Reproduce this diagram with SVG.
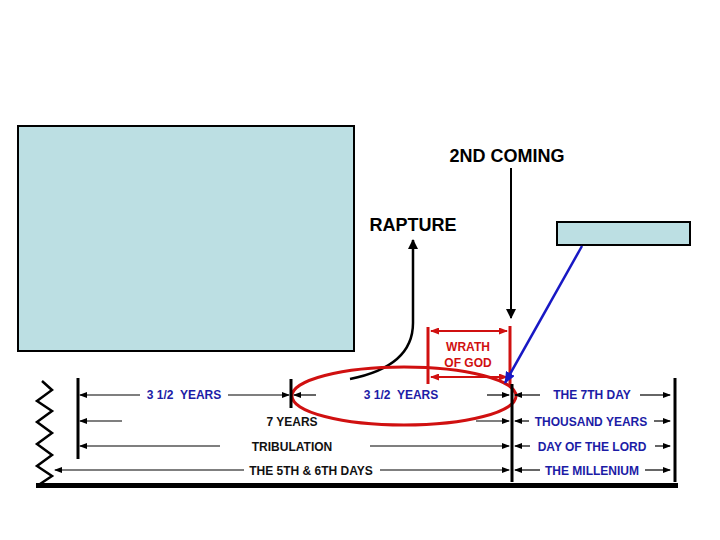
<svg xmlns="http://www.w3.org/2000/svg" width="720" height="540" viewBox="0 0 720 540">
<style>
.t{font-family:"Liberation Sans",Arial,sans-serif;font-weight:bold}
.row{font-size:12px;text-anchor:middle}
.blue{fill:#1c1ca6}
.blk{fill:#111}
.a{stroke:#000;stroke-width:1.2;fill:none}
.bar{stroke:#000;stroke-width:3;fill:none}
.red{stroke:#d01010;fill:none}
</style>
<defs>
<marker id="ah" markerWidth="8" markerHeight="6" refX="7" refY="3" orient="auto" markerUnits="userSpaceOnUse">
<path d="M0,0 L8,3 L0,6 Z" fill="#000"/>
</marker>
<marker id="ahr" markerWidth="9" markerHeight="7" refX="8" refY="3.5" orient="auto-start-reverse" markerUnits="userSpaceOnUse">
<path d="M0,0 L9,3.5 L0,7 Z" fill="#d01010"/>
</marker>
<marker id="big" markerWidth="10" markerHeight="10" refX="9" refY="5" orient="auto" markerUnits="userSpaceOnUse">
<path d="M0,0 L10,5 L0,10 Z" fill="#000"/>
</marker>
<marker id="blu" markerWidth="12" markerHeight="10" refX="11" refY="5" orient="auto" markerUnits="userSpaceOnUse">
<path d="M0,0 L12,5 L0,10 Z" fill="#1818c4"/>
</marker>
</defs>
<rect width="720" height="540" fill="#fff"/>

<g id="box-large"><rect x="18" y="126" width="336" height="225" fill="#bcdfe3" stroke="#000" stroke-width="2"/></g>
<g id="box-small"><rect x="557" y="222" width="133" height="23" fill="#bcdfe3" stroke="#000" stroke-width="2"/></g>

<g id="label-2nd-coming"><text class="t" x="507" y="162" font-size="18" text-anchor="middle" fill="#000">2ND COMING</text></g>
<g id="label-rapture"><text class="t" x="413" y="231" font-size="18" text-anchor="middle" fill="#000">RAPTURE</text></g>
<g id="label-wrath"><text class="t" x="468" y="351" font-size="12" text-anchor="middle" fill="#d01010">WRATH</text>
<text class="t" x="468" y="367" font-size="12" text-anchor="middle" fill="#d01010">OF GOD</text></g>

<g id="connectors">
<line x1="511" y1="168" x2="511" y2="318" stroke="#000" stroke-width="2" marker-end="url(#big)"/>
<path d="M350,379 C395,370 413,350 413,323 L413,240" stroke="#000" stroke-width="2.5" fill="none" marker-end="url(#big)"/>
<line x1="428" y1="327" x2="428" y2="384" class="red" stroke-width="3"/>
<line x1="510" y1="326" x2="510" y2="386" class="red" stroke-width="3"/>
<line x1="431" y1="331" x2="507" y2="331" class="red" stroke-width="1.8" marker-start="url(#ahr)" marker-end="url(#ahr)"/>
<line x1="431" y1="377" x2="507" y2="377" class="red" stroke-width="1.8" marker-start="url(#ahr)" marker-end="url(#ahr)"/>
<ellipse cx="404" cy="396" rx="112" ry="29" class="red" stroke-width="3"/>
<line x1="582" y1="246" x2="505" y2="383" stroke="#1818c4" stroke-width="2.5" marker-end="url(#blu)"/>

<line x1="78" y1="378" x2="78" y2="459" class="bar"/>
<line x1="291" y1="379" x2="291" y2="408" class="bar"/>
<line x1="512" y1="384" x2="512" y2="482" class="bar"/>
<line x1="675" y1="378" x2="675" y2="482" class="bar"/>
<line x1="36" y1="485.5" x2="678" y2="485.5" stroke="#000" stroke-width="5"/>
<polyline points="42,381 52,390 37,401 52,411 37,422 52,433 37,444 52,455 37,466 52,476 40,484" stroke="#000" stroke-width="2.5" fill="none"/>

<line x1="140" y1="395" x2="80" y2="395" class="a" marker-end="url(#ah)"/>
<line x1="228" y1="395" x2="289" y2="395" class="a" marker-end="url(#ah)"/>
<line x1="316" y1="395" x2="294" y2="395" class="a" marker-end="url(#ah)"/>
<line x1="487" y1="395" x2="509" y2="395" class="a" marker-end="url(#ah)"/>
<line x1="540" y1="395" x2="515" y2="395" class="a" marker-end="url(#ah)"/>
<line x1="640" y1="395" x2="670" y2="395" class="a" marker-end="url(#ah)"/>
<line x1="122" y1="421" x2="80" y2="421" class="a" marker-end="url(#ah)"/>
<line x1="476" y1="421" x2="509" y2="421" class="a" marker-end="url(#ah)"/>
<line x1="529" y1="421" x2="515" y2="421" class="a" marker-end="url(#ah)"/>
<line x1="654" y1="421" x2="670" y2="421" class="a" marker-end="url(#ah)"/>
<line x1="220" y1="446" x2="80" y2="446" class="a" marker-end="url(#ah)"/>
<line x1="370" y1="446" x2="509" y2="446" class="a" marker-end="url(#ah)"/>
<line x1="530" y1="446" x2="515" y2="446" class="a" marker-end="url(#ah)"/>
<line x1="655" y1="446" x2="670" y2="446" class="a" marker-end="url(#ah)"/>
<line x1="244" y1="470" x2="55" y2="470" class="a" marker-end="url(#ah)"/>
<line x1="380" y1="470" x2="509" y2="470" class="a" marker-end="url(#ah)"/>
<line x1="540" y1="470" x2="515" y2="470" class="a" marker-end="url(#ah)"/>
<line x1="645" y1="470" x2="670" y2="470" class="a" marker-end="url(#ah)"/>
</g>

<g id="row-labels">
<text class="t row blue" x="184" y="399" xml:space="preserve">3 1/2  YEARS</text>
<text class="t row blue" x="401" y="399" xml:space="preserve">3 1/2  YEARS</text>
<text class="t row blue" x="592" y="399">THE 7TH DAY</text>
<text class="t row blk" x="292" y="426">7 YEARS</text>
<text class="t row blue" x="591" y="426">THOUSAND YEARS</text>
<text class="t row blk" x="292" y="451">TRIBULATION</text>
<text class="t row blue" x="592" y="451">DAY OF THE LORD</text>
<text class="t row blk" x="311" y="475">THE 5TH &amp; 6TH DAYS</text>
<text class="t row blue" x="592" y="475">THE MILLENIUM</text>
</g>
</svg>
